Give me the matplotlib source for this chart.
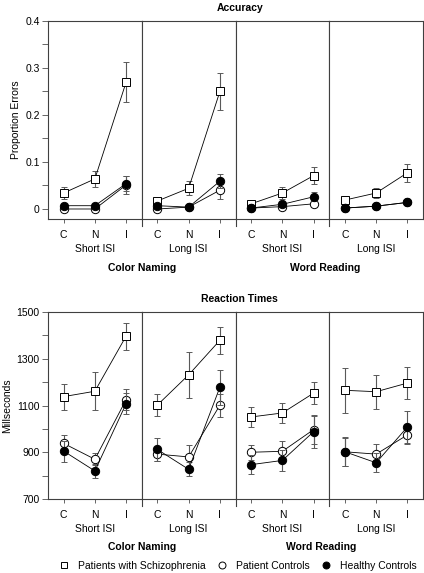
import numpy as np
import matplotlib
matplotlib.use('Agg')
import matplotlib.pyplot as plt
from matplotlib.lines import Line2D
from matplotlib.ticker import FixedLocator, FuncFormatter

plt.rcParams['font.family'] = ['Liberation Sans', 'DejaVu Sans']
plt.rcParams['font.size'] = 7.5

conds = ['C', 'N', 'I']
isi = ['Short ISI', 'Long ISI', 'Short ISI', 'Long ISI']
tasks = ['Color Naming', 'Word Reading']
groups = ['Patients with Schizophrenia', 'Patient Controls', 'Healthy Controls']

# accuracy (proportion errors), one row per panel
acc_schiz = [[0.034, 0.064, 0.270], [0.017, 0.044, 0.250], [0.011, 0.034, 0.071], [0.019, 0.034, 0.077]]
acc_schiz_err = [[0.012, 0.017, 0.043], [0.005, 0.015, 0.039], [0.004, 0.012, 0.018], [0.003, 0.010, 0.019]]
acc_pc = [[0.000, 0.000, 0.051], [0.000, 0.004, 0.040], [0.002, 0.005, 0.011], [0.002, 0.006, 0.014]]
acc_pc_err = [[0.002, 0.002, 0.019], [0.002, 0.003, 0.019], [0.002, 0.003, 0.004], [0.002, 0.002, 0.004]]
acc_hc = [[0.007, 0.007, 0.054], [0.007, 0.004, 0.059], [0.002, 0.010, 0.026], [0.002, 0.006, 0.014]]
acc_hc_err = [[0.004, 0.004, 0.016], [0.003, 0.003, 0.015], [0.002, 0.005, 0.010], [0.002, 0.002, 0.004]]
acc_ticks = [0, 0.1, 0.2, 0.3, 0.4]

# reaction times (ms)
rt_schiz = [[1138, 1161, 1397], [1102, 1231, 1379], [1051, 1068, 1153], [1165, 1159, 1196]]
rt_schiz_err = [[56, 82, 58], [47, 98, 58], [42, 43, 48], [95, 72, 68]]
rt_pc = [[938, 870, 1125], [892, 880, 1101], [900, 904, 997], [902, 892, 974]]
rt_pc_err = [[35, 25, 45], [30, 50, 50], [33, 43, 60], [60, 45, 40]]
rt_hc = [[905, 820, 1108], [912, 827, 1178], [847, 865, 988], [902, 855, 1008]]
rt_hc_err = [[45, 30, 45], [50, 30, 75], [40, 45, 70], [62, 40, 68]]
rt_ticks = [700, 900, 1100, 1300, 1500]

styles = [dict(marker='s', mfc='white', mec='black', ms=5.5),
          dict(marker='o', mfc='white', mec='black', ms=6),
          dict(marker='o', mfc='black', mec='black', ms=6)]

W, H = 424, 573
fig = plt.figure(figsize=(W / 100, H / 100), dpi=100)

left, right = 48, 423
pw = (right - left) / 4
x = np.arange(1, 4)


def draw_row(top, bottom, means, errs, ylim, ticks, ylabel, title):
    step = (ticks[1] - ticks[0]) / 2
    minor = np.arange(ticks[0], ticks[-1] + step / 2, step)
    for p in range(4):
        ax = fig.add_axes([(left + p * pw) / W, 1 - bottom / H, pw / W, (bottom - top) / H])
        for g in range(3):
            ax.errorbar(x, means[g][p], yerr=errs[g][p], color='black', lw=0.6,
                        ecolor='0.35', elinewidth=0.8, capsize=2, capthick=0.8,
                        mew=0.7, zorder=3 + g, **styles[g])
        ax.set_xlim(0.5, 3.5)
        ax.set_ylim(*ylim)
        ax.set_xticks(x)
        ax.set_xticklabels(conds)
        ax.tick_params(axis='x', direction='out', length=3, width=0.6, pad=5, color='0.3')
        ax.set_xlabel(isi[p], labelpad=3)
        for s in ax.spines.values():
            s.set_color('0.25')
            s.set_linewidth(0.8)
        if p == 0:
            ax.yaxis.set_major_locator(FixedLocator(ticks))
            ax.yaxis.set_minor_locator(FixedLocator(minor))
            ax.yaxis.set_major_formatter(FuncFormatter(lambda v, pos: f'{v:g}'))
            ax.tick_params(axis='y', which='both', direction='out', length=4, width=0.6,
                           color='0.3', pad=2)
            ax.set_ylabel(ylabel, labelpad=3)
        else:
            ax.set_yticks([])
            ax.plot([0, 0], [-0.035, 0], transform=ax.transAxes, color='0.25', lw=0.8, clip_on=False)
    fig.text((left + 2 * pw) / W + 0.01, 1 - (top - 13) / H, title, ha='center', va='center',
             fontweight='bold')


draw_row(21, 219, [acc_schiz, acc_pc, acc_hc], [acc_schiz_err, acc_pc_err, acc_hc_err],
         (-0.0213, 0.4), acc_ticks, 'Proportion Errors', 'Accuracy')
fig.text((left + pw) / W, 1 - 268 / H, tasks[0], ha='center', va='center', fontweight='bold')
fig.text((left + 3 * pw) / W - 0.01, 1 - 268 / H, tasks[1], ha='center', va='center', fontweight='bold')

draw_row(312, 499, [rt_schiz, rt_pc, rt_hc], [rt_schiz_err, rt_pc_err, rt_hc_err],
         (700, 1500), rt_ticks, 'Millseconds', 'Reaction Times')
fig.text((left + pw) / W, 1 - 547 / H, tasks[0], ha='center', va='center', fontweight='bold')
fig.text((left + 3 * pw) / W - 0.02, 1 - 547 / H, tasks[1], ha='center', va='center', fontweight='bold')

handles = [Line2D([], [], ls='none', mew=0.7, **dict(styles[g], ms=5)) for g in range(3)]
fig.legend(handles, groups, loc='center', bbox_to_anchor=(0.56, 1 - 566 / H), ncol=3,
           frameon=False, handletextpad=0.75, columnspacing=0.95, handlelength=1.2,
           fontsize=7.5, borderaxespad=0)

fig.savefig('out.png', dpi=100)
